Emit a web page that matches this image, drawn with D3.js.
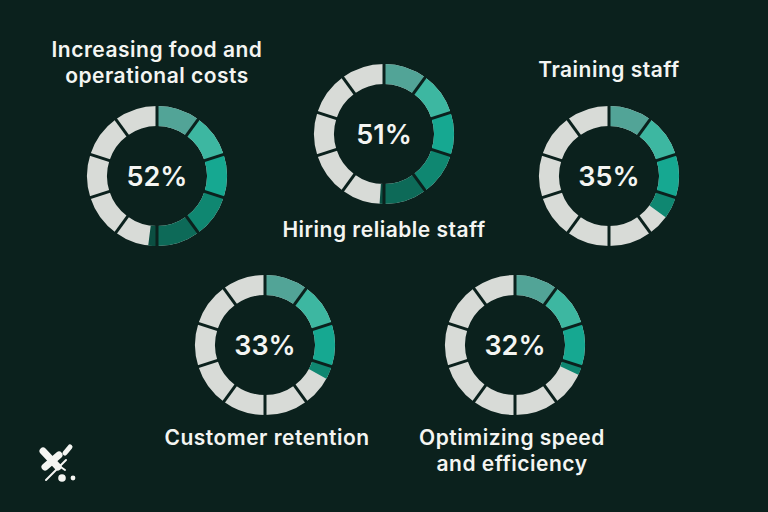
<!DOCTYPE html>
<html>
<head>
<meta charset="utf-8">
<script src="https://cdn.jsdelivr.net/npm/d3@7"></script>
<style>
  html, body { margin: 0; padding: 0; background: #0b211d; }
  svg { display: block; }
  text { font-family: Inter, "Noto Sans", sans-serif; fill: #f4f5f2; }
</style>
</head>
<body>
<script>
// data
var titles = [
    ["Increasing food and", "operational costs"],
    ["Hiring reliable staff"],
    ["Training staff"],
    ["Customer retention"],
    ["Optimizing speed", "and efficiency"]
];
var values = [52, 51, 35, 33, 32];
var segmentColors = ["#52a497", "#3db7a1", "#16a891", "#0f8771", "#0d6a58", "#0b4e41",
                     "#0b4e41", "#0b4e41", "#0b4e41", "#0b4e41"];
var segmentCount = 10;

// layout: centre of each donut and where its title goes
var layout = [
    { cx: 157, cy: 176, ty: 57 },
    { cx: 384, cy: 134, ty: 237 },
    { cx: 609, cy: 176, ty: 77 },
    { cx: 267, cy: 345, ty: 445 },
    { cx: 512, cy: 345, ty: 445 }
];
var ringCentres = [157, 384, 609, 265, 515];

var width = 768, height = 512;
var outerR = 70, innerR = 50;
var bg = "#0b211d", rest = "#d8dbd7";

var svg = d3.select("body").append("svg")
    .attr("width", width)
    .attr("height", height);

svg.append("rect").attr("width", width).attr("height", height).attr("fill", bg);

var angle = d3.scaleLinear().domain([0, 100]).range([0, 2 * Math.PI]);
var arc = d3.arc().innerRadius(innerR).outerRadius(outerR);
var segSize = 100 / segmentCount;

values.forEach(function (v, k) {
    var pos = layout[k];
    var g = svg.append("g").attr("transform", "translate(" + ringCentres[k] + "," + pos.cy + ")");

    var segs = d3.range(segmentCount).map(function (i) {
        return { i: i, start: i * segSize, end: (i + 1) * segSize };
    });

    // grey track
    g.selectAll("path.track")
        .data(segs)
        .enter()
        .append("path")
        .attr("class", "track")
        .attr("fill", rest)
        .attr("d", function (d) {
            return arc({ startAngle: angle(d.start), endAngle: angle(d.end) });
        });

    // filled part
    g.selectAll("path.fill")
        .data(segs.filter(function (d) { return d.start < v; }))
        .enter()
        .append("path")
        .attr("class", "fill")
        .attr("fill", function (d) { return segmentColors[d.i]; })
        .attr("d", function (d) {
            return arc({ startAngle: angle(d.start), endAngle: angle(Math.min(d.end, v)) });
        });

    // separators between segments
    g.selectAll("line.sep")
        .data(segs)
        .enter()
        .append("line")
        .attr("class", "sep")
        .attr("x1", function (d) { return Math.sin(angle(d.start)) * (innerR - 1); })
        .attr("y1", function (d) { return -Math.cos(angle(d.start)) * (innerR - 1); })
        .attr("x2", function (d) { return Math.sin(angle(d.start)) * (outerR + 1); })
        .attr("y2", function (d) { return -Math.cos(angle(d.start)) * (outerR + 1); })
        .style("stroke", bg)
        .style("stroke-width", "3px");

    g.append("text")
        .attr("text-anchor", "middle")
        .attr("dy", "0.36em")
        .style("font-size", "27px")
        .style("font-weight", 600)
        .text(v + "%");

    var t = svg.append("text")
        .attr("text-anchor", "middle")
        .attr("x", pos.cx)
        .attr("y", pos.ty)
        .style("font-size", "21px")
        .style("letter-spacing", "0.5px")
        .style("font-weight", 600);
    titles[k].forEach(function (line, j) {
        t.append("tspan").attr("x", pos.cx).attr("dy", j === 0 ? 0 : 26).text(line);
    });
});

// little logo, bottom left
var logo = svg.append("g").attr("fill", "#f4f5f2").attr("stroke", "#f4f5f2").attr("stroke-linecap", "round");
logo.append("line").attr("x1", 43).attr("y1", 451).attr("x2", 58).attr("y2", 467).style("stroke-width", "7px");
logo.append("line").attr("x1", 45).attr("y1", 467).attr("x2", 59).attr("y2", 455).style("stroke-width", "7px");
logo.append("line").attr("x1", 65).attr("y1", 453).attr("x2", 70).attr("y2", 447).style("stroke-width", "5px");
logo.append("line").attr("x1", 58).attr("y1", 465).attr("x2", 65).attr("y2", 470).style("stroke-width", "2px");
logo.append("line").attr("x1", 46).attr("y1", 480).attr("x2", 66).attr("y2", 460).style("stroke-width", "2px");
logo.append("circle").attr("cx", 62).attr("cy", 478).attr("r", 3.8).style("stroke", "none");
logo.append("circle").attr("cx", 73).attr("cy", 478).attr("r", 2.4).style("stroke", "none");
</script>
</body>
</html>
